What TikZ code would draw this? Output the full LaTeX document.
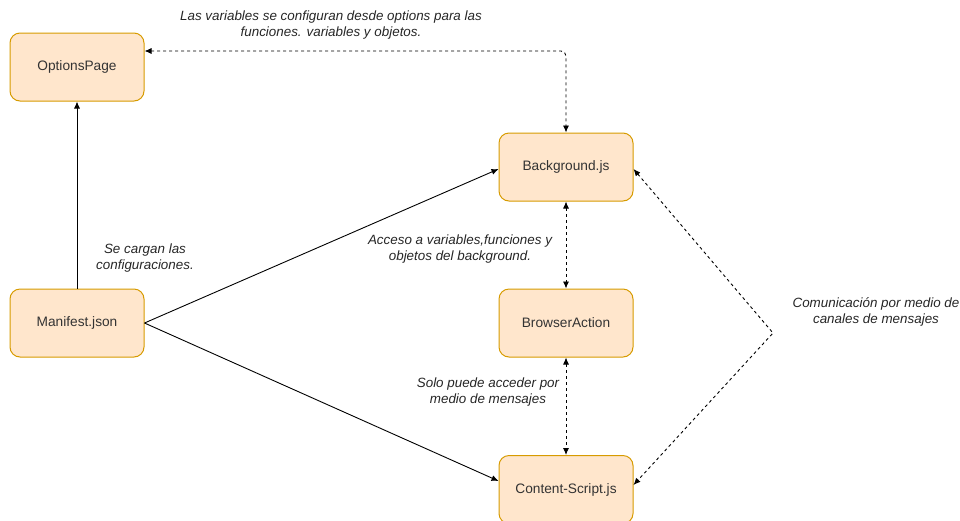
\documentclass[tikz,border=0pt]{standalone}
\usepackage{fontspec}
\setmainfont{Liberation Sans}
\usetikzlibrary{arrows.meta}
\definecolor{boxfill}{HTML}{FFE6CC}
\definecolor{boxline}{HTML}{D79B00}
\definecolor{txt}{HTML}{333333}
\begin{document}
\begin{tikzpicture}[x=1pt,y=-1pt,
  comp/.style={draw=boxline, fill=boxfill, line width=1pt, rounded corners=10pt,
    minimum width=134pt, minimum height=68pt, inner sep=0pt,
    font=\fontsize{13.7}{16}\selectfont, text=txt},
  note/.style={font=\fontsize{13.4}{16.5}\selectfont\itshape, align=center, text=black!85},
  flow/.style={line width=0.9pt, -{Latex[length=7pt,width=6pt]}},
  msg/.style={line width=0.9pt, dash pattern=on 3pt off 3pt,
    {Latex[length=7pt,width=6pt]}-{Latex[length=7pt,width=6pt]}}]
  \useasboundingbox (0,0) rectangle (960,520);

  % components
  \node[comp] (op) at (77,67)    {OptionsPage};
  \node[comp] (mf) at (77,323)   {Manifest.json};
  \node[comp] (bg) at (566,167)  {Background.js};
  \node[comp] (ba) at (566,323)  {BrowserAction};
  \node[comp] (cs) at (566,489.5) {Content-Script.js};
  \coordinate (bend) at (773,333);

  % manifest loads everything
  \draw[flow] (mf.north) -- (op.south);
  \draw[flow] (mf.east) -- ([yshift=-2pt]bg.west);
  \draw[flow] (mf.east) -- ([yshift=8.5pt]cs.west);

  % message channels
  \draw[msg, rounded corners=5pt] ([yshift=16pt]op.east) -| (bg.north);
  \draw[msg] (bg.south) -- (ba.north);
  \draw[msg] (ba.south) -- (cs.north);
  \draw[msg] ([yshift=-2pt]bg.east) -- (bend) -- ([yshift=4.5pt]cs.east);

  % labels
  \node[note] (l1) at (331,25) {Las variables se configuran desde options para las\\funciones. variables y objetos.};
  \node[note] (l2) at (145,258) {Se cargan las\\configuraciones.};
  \node[note] (l3) at (460,249) {Acceso a variables,funciones y\\objetos del background.};
  \node[note] (l4) at (876,312) {Comunicación por medio de\\canales de mensajes};
  \node[note] (l5) at (488,392) {Solo puede acceder por\\medio de mensajes};
\end{tikzpicture}
\end{document}
